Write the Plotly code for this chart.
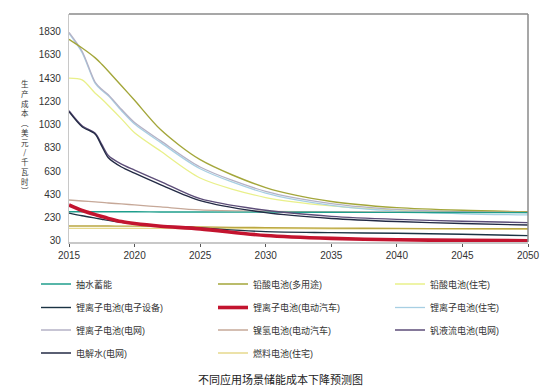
import plotly.graph_objects as go

# ---------------- data ----------------
years = [2015, 2016, 2017, 2017.5, 2018, 2019, 2020, 2022, 2025, 2030, 2035, 2040, 2045, 2050]

pumped_hydro   = [280, 280, 280, 280, 280, 279, 279, 278, 277, 276, 275, 274, 273, 272]
lead_acid_multi= [1765, 1690, 1605, 1550, 1490, 1365, 1240, 985, 728, 488, 368, 315, 292, 280]
lead_acid_res  = [1430, 1415, 1300, 1250, 1195, 1080, 960, 800, 570, 402, 330, 295, 282, 276]
li_electronics = [268, 245, 225, 215, 205, 188, 175, 158, 140, 108, 100, 94, 86, 74]
li_ev          = [338, 290, 255, 238, 222, 195, 178, 155, 132, 75, 50, 38, 33, 30]
li_res         = [1815, 1650, 1385, 1325, 1278, 1150, 1035, 875, 650, 440, 335, 285, 262, 252]
li_grid        = [1825, 1662, 1395, 1335, 1288, 1162, 1048, 890, 665, 455, 350, 300, 282, 272]
nimh_ev        = [381, 372, 364, 360, 355, 347, 338, 321, 295, 283, 279, 277, 276, 275]
vanadium       = [1150, 1020, 955, 860, 765, 690, 638, 540, 392, 292, 240, 214, 198, 186]
electrolysis   = [1142, 1012, 948, 845, 745, 665, 612, 512, 375, 272, 222, 195, 178, 165]
fuel_cell_res  = [137, 137, 137, 137, 137, 137, 137, 136, 135, 134, 133, 132, 131, 130]
flat_olive     = [157, 157, 157, 157, 157, 156, 155, 152, 148, 143, 139, 136, 134, 133]

y_ticks = [30, 230, 430, 630, 830, 1030, 1230, 1430, 1630, 1830]
x_ticks = [2015, 2020, 2025, 2030, 2035, 2040, 2045, 2050]

y_title = "生产成本︵美元/千瓦时︶"
chart_title = "不同应用场景储能成本下降预测图"

# (name, values, color, width, legend row, legend rank) in drawing order
series = [
    ("燃料电池(住宅)", fuel_cell_res, "#e6d98c", 1.3, 4, 11),
    (None, flat_olive, "#b9a641", 1.3, 4, 99),
    ("铅酸电池(住宅)", lead_acid_res, "#e9f08a", 1.3, 1, 3),
    ("锂离子电池(住宅)", li_res, "#a7cfe3", 1.3, 2, 6),
    ("锂离子电池(电网)", li_grid, "#b4b2c6", 1.3, 3, 7),
    ("铅酸电池(多用途)", lead_acid_multi, "#a3a63a", 1.4, 1, 2),
    ("镍氢电池(电动汽车)", nimh_ev, "#c6a898", 1.3, 3, 8),
    ("抽水蓄能", pumped_hydro, "#1f9e8c", 1.4, 1, 1),
    ("钒液流电池(电网)", vanadium, "#5c4d78", 1.4, 3, 9),
    ("电解水(电网)", electrolysis, "#232a45", 1.4, 4, 10),
    ("锂离子电池(电子设备)", li_electronics, "#1b3344", 1.4, 2, 4),
    ("锂离子电池(电动汽车)", li_ev, "#c3142f", 3.6, 2, 5),
]

fig = go.Figure()
for name, vals, color, width, row, rank in series:
    fig.add_trace(go.Scatter(
        x=years, y=vals, mode="lines",
        name=name if name else "",
        showlegend=name is not None,
        legend="legend" if row == 1 else f"legend{row}",
        legendrank=rank,
        line=dict(color=color, width=width, shape="spline", smoothing=0.8),
        hoverinfo="skip",
    ))

FONT = "Liberation Sans, Arial, Noto Sans CJK SC, sans-serif"

# plot area in pixels: left 69, right 528, top 14, bottom 242
PL, PR, PT, PB = 69, 528, 14, 242
PW, PH = PR - PL, PB - PT


def px_x(x):
    return (x - PL) / PW


def px_y(y):
    return (PB - y) / PH


row_centers = [279, 302.5, 325, 348]


def legend_cfg(center):
    return dict(
        orientation="h", x=px_x(36), xanchor="left",
        y=px_y(center - 9.5), yanchor="top",
        entrywidth=132, entrywidthmode="pixels",
        font=dict(size=9, color="#333333", family=FONT),
        traceorder="normal", itemwidth=30,
        bgcolor="rgba(0,0,0,0)",
    )


fig.update_layout(
    width=556, height=389,
    margin=dict(l=PL, r=556 - PR, t=PT, b=389 - PB, autoexpand=False),
    paper_bgcolor="white", plot_bgcolor="white",
    font=dict(family=FONT, size=10, color="#333333"),
    xaxis=dict(
        range=[2015, 2050], tickvals=x_ticks, showgrid=False, zeroline=False,
        showline=True, linecolor="#c8c8c8", linewidth=1.5,
        ticks="outside", ticklen=3, tickcolor="#555555", tickwidth=1,
        ticklabelstandoff=0,
        tickfont=dict(size=10, color="#333333"),
    ),
    yaxis=dict(
        range=[19, 1983], tickvals=y_ticks, showgrid=False, zeroline=False,
        showline=True, linecolor="#c8c8c8", linewidth=1.2,
        ticks="", ticklabelstandoff=5,
        tickfont=dict(size=10, color="#333333"),
    ),
    legend=legend_cfg(row_centers[0]),
    legend2=legend_cfg(row_centers[1]),
    legend3=legend_cfg(row_centers[2]),
    legend4=legend_cfg(row_centers[3]),
    showlegend=True,
)

# top and right frame lines
fig.add_shape(type="line", xref="paper", yref="paper", x0=0, x1=1, y0=1, y1=1,
              line=dict(color="#8a8a8a", width=1.5))
fig.add_shape(type="line", xref="paper", yref="paper", x0=1, x1=1, y0=0, y1=1,
              line=dict(color="#8a8a8a", width=1.5))

# vertical stacked y-axis title
fig.add_annotation(
    text="<br>".join(y_title), xref="paper", yref="paper",
    x=px_x(25), y=px_y(137), xanchor="center", yanchor="middle",
    showarrow=False,
    font=dict(size=7.5, color="#333333", family="Noto Sans CJK SC"),
)

# chart caption
fig.add_annotation(
    text=chart_title, xref="paper", yref="paper",
    x=px_x(280), y=px_y(379),
    xanchor="center", yanchor="middle", showarrow=False,
    font=dict(size=11, color="#222222", family="Noto Sans CJK SC"),
)

fig.write_html(
    "out.html",
    config={"displayModeBar": False},
    post_script="document.body.style.margin='0px';document.body.style.overflow='hidden';",
)
